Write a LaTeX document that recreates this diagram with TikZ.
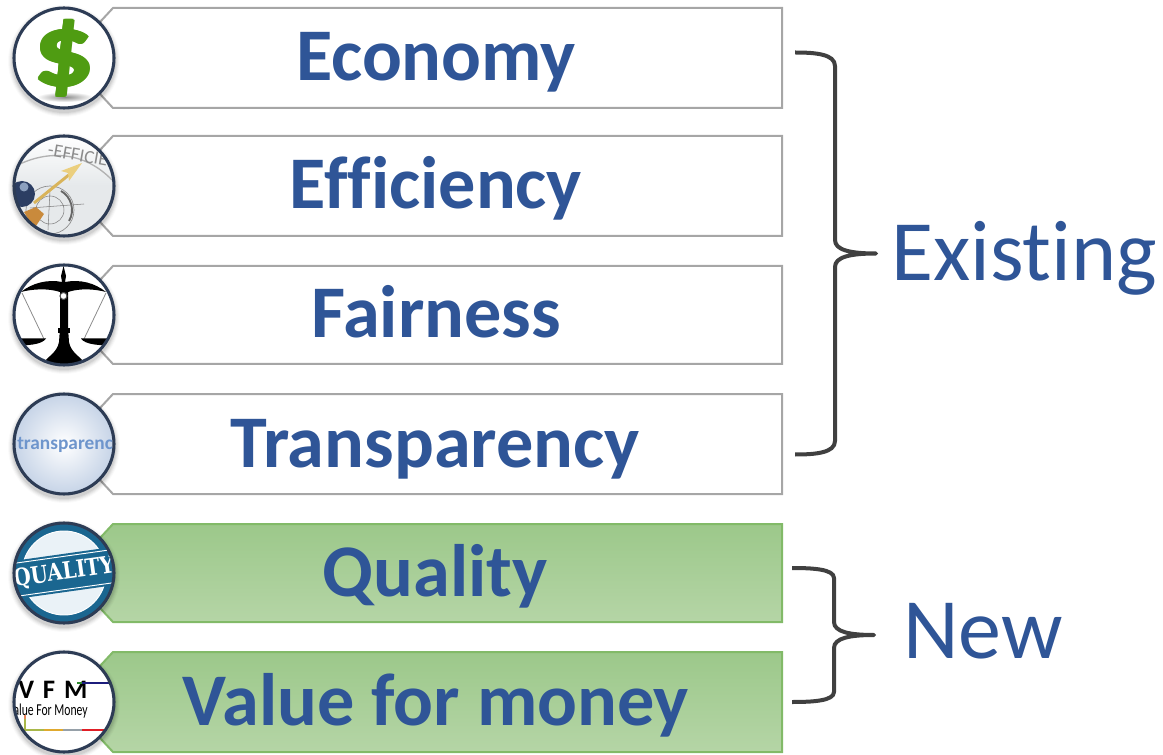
\documentclass[tikz,border=0pt]{standalone}
\usepackage{fontspec}
\setmainfont[Ligatures={NoCommon}]{Carlito}
\newfontfamily\slabfont{DejaVu Serif}
\usetikzlibrary{calc}
\definecolor{titleblue}{HTML}{2F5597}
\definecolor{ringblue}{HTML}{2D3C55}
\definecolor{boxgray}{HTML}{A6A6A6}
\definecolor{boxgreen}{HTML}{82BA68}
\definecolor{fillgreentop}{HTML}{9CC88A}
\definecolor{fillgreenbot}{HTML}{B5D5A6}
\definecolor{bracegray}{HTML}{404040}
\definecolor{dollargreen}{HTML}{4F9C12}
\definecolor{qblue}{HTML}{1A6690}
\definecolor{qpale}{HTML}{EAF2F7}
\definecolor{tedge}{HTML}{C4D2E6}
\definecolor{ttext}{HTML}{6E95CC}
\definecolor{dialbg}{HTML}{E6E9EB}
\definecolor{needle}{HTML}{D9B45A}
\definecolor{needletip}{HTML}{EBCF7E}
\definecolor{ballblue}{HTML}{2C3E63}
\definecolor{ballhi}{HTML}{8CA0BE}
\definecolor{brassorange}{HTML}{C98A3C}
\definecolor{vnavy}{HTML}{1C1C7C}
\definecolor{vgreen}{HTML}{2E8B2E}
\definecolor{volive}{HTML}{A9B84A}
\definecolor{vgold}{HTML}{E0A92E}
\definecolor{vgray}{HTML}{96A0A8}
\definecolor{vred}{HTML}{E01E26}
\definecolor{vorange}{HTML}{E8875A}
\tikzset{
  x=0.75pt,y=-0.75pt,
  plainbox/.style={draw=boxgray,line width=1.5pt,fill=white},
  greenbox/.style={draw=boxgreen,line width=1.5pt,top color=fillgreentop,bottom color=fillgreenbot},
  rowlabel/.style={font=\bfseries\fontsize{55.7}{60}\selectfont,text=titleblue,inner sep=0pt,anchor=base},
  sidelabel/.style={font=\fontsize{64.5}{70}\selectfont,text=titleblue,inner sep=0pt,anchor=base west},
  bracepath/.style={draw=bracegray,line width=3pt,line cap=butt,line join=round},
  ring/.style={draw=ringblue,line width=2.3pt},
}
% #1 style, #2 top, #3 bottom
\newcommand{\snipbox}[3]{\path[#1] (100,#2+14) -- (113,#2) -- (782,#2) -- (782,#3) -- (113,#3) -- (100,#3-14) -- cycle;}
% soft shadow below a disc centred at (64,#1)
\newcommand{\discshadow}[1]{\foreach \rr/\oo in {56/.02,55/.03,54/.04,53/.05,52/.06}{\fill[black,opacity=\oo] (64,#1+3) circle[radius=\rr];}}
\newcommand{\dollarglyph}{\scalebox{1.18}[1]{\bfseries\fontsize{76}{76}\selectfont\$}}
\begin{document}
\begin{tikzpicture}
\useasboundingbox (0,0) rectangle (1163,755);

% boxes
\snipbox{plainbox}{8}{108}
\snipbox{plainbox}{136}{236}
\snipbox{plainbox}{266}{364}
\snipbox{plainbox}{394}{494}
\snipbox{greenbox}{524}{622}
\snipbox{greenbox}{652}{752}

% labels
\node[rowlabel] (economy) at (436,81) {Economy};
\node[rowlabel] (efficiency) at (436,209) {Efficiency};
\node[rowlabel] (fairness) at (436,338) {Fairness};
\node[rowlabel] (transparency) at (435,467) {Transparency};
\node[rowlabel] (quality) at (435,596) {Quality};
\node[rowlabel] (vfm) at (436,725) {Value for money};
\node[sidelabel] (existing) at (891,281) {Existing};
\node[sidelabel] (new) at (903,658) {New};

% braces
\coordinate (e1) at (795,52.5);
\coordinate (e2) at (795,454.5);
\coordinate (etip) at (876,253.5);
\draw[bracepath] (e1) .. controls (815,52.5) and (835,54) .. (835,66) -- (835,240)
  .. controls (835,250) and (850,253.5) .. (etip)
  .. controls (850,253.5) and (835,257) .. (835,267) -- (835,441)
  .. controls (835,453) and (815,454.5) .. (e2);
\coordinate (n1) at (792,568);
\coordinate (n2) at (792,702);
\coordinate (ntip) at (874,635);
\draw[bracepath] (n1) .. controls (812,568) and (834,569) .. (834,578) -- (834,622)
  .. controls (834,632) and (850,635) .. (ntip)
  .. controls (850,635) and (834,638) .. (834,648) -- (834,692)
  .. controls (834,701) and (812,702) .. (n2);

% icon 1: dollar
\discshadow{58}
\begin{scope}
  \clip (64,58) circle[radius=50];
  \fill[white] (14,8) rectangle (114,108);
  \shade[inner color=black!45,outer color=white] (65,97) ellipse[x radius=28,y radius=5];
  \foreach \dx/\dy in {-1.6/0,1.6/0,0/-1,0/1,-1.2/1,1.2/-1,-1.2/-1,1.2/1}{
    \node[inner sep=0pt,text=dollargreen] at (64+\dx,58+\dy) {\dollarglyph};
  }
  \node[inner sep=0pt,text=dollargreen] (dollar) at (64,58) {\dollarglyph};
\end{scope}
\draw[ring] (64,58) circle[radius=50];

% icon 2: efficiency dial
\discshadow{186}
\begin{scope}
  \clip (64,186) circle[radius=50];
  \shade[top color=white,bottom color=dialbg,middle color=dialbg] (14,136) rectangle (114,236);
  \draw[black!30,line width=1pt] (20,164) .. controls (50,150) and (85,152) .. (112,180);
  \node[inner sep=0pt,text=black!45,rotate=-10,font=\fontsize{14}{15}\selectfont] (efficie) at (78,155) {-EFFICIE};
  \draw[black!45,line width=0.5pt] (50,210) circle[radius=24];
  \draw[black!60,line width=1.4pt] (50,210) +(-60:22) arc[start angle=-60,end angle=30,radius=22];
  \draw[black!50,line width=0.4pt] (30,208) -- (84,204) (50,190) -- (48,230) (50,210) circle[radius=14];
  \fill[brassorange] (24,212) -- (30,222) -- (36,226) -- (44,214) -- (36,207) -- cycle;
  \fill[ballblue] (22,194) circle[radius=13];
  \fill[ballhi] (24,187) circle[radius=4.5];
  \draw[needle,line width=2.2pt] (34,203) -- (70,174);
  \fill[needletip] (82,163) -- (61,171) -- (68,173) -- (69,181) -- cycle;
\end{scope}
\draw[ring] (64,186) circle[radius=50];

% icon 3: scales
\discshadow{315}
\begin{scope}
  \clip (64,315) circle[radius=50];
  \fill[white] (14,265) rectangle (114,365);
  \draw[black!45,line width=0.6pt] (22,293) -- (44,339) (106,293) -- (84,339);
  \fill[black] (63.5,266) -- (66,276) -- (65,282) .. controls (80,279) and (95,283) .. (106,292)
     .. controls (95,289) and (80,288) .. (68,292)
     -- (68,328) -- (69,342) .. controls (71,352) and (78,355) .. (84,362) -- (84,367) -- (44,367) -- (44,362)
     .. controls (50,355) and (57,352) .. (59,342) -- (60,328)
     -- (60,292) .. controls (48,288) and (32,289) .. (21,292) .. controls (32,283) and (48,279) .. (62,282) -- (61,276) -- cycle;
  \fill[black] (10,338.5) -- (46,338.5) .. controls (42,345) and (26,346) .. (10,345) -- cycle;
  \fill[black] (118,338.5) -- (81,338.5) .. controls (85,345) and (102,346) .. (118,345) -- cycle;
  \draw[black!70,line width=0.8pt,fill=white] (63.5,296) circle[radius=3.5];
  \fill[black] (58,328) rectangle (70,333);
\end{scope}
\draw[ring] (64,315) circle[radius=50];

% icon 4: transparency
\discshadow{444}
\begin{scope}
  \clip (64,444) circle[radius=50];
  \shade[inner color=white,outer color=tedge] (64,444) circle[radius=52];
  \node[inner sep=0pt,anchor=west,text=ttext,font=\bfseries\fontsize{14.5}{15}\selectfont] (transp) at (17,445) {transparency};
\end{scope}
\draw[ring] (64,444) circle[radius=50];

% icon 5: quality
\discshadow{573}
\begin{scope}
  \clip (64,573) circle[radius=50];
  \fill[qblue] (14,523) rectangle (114,623);
  \draw[white,fill=qpale,line width=0.7pt] (64,573) circle[radius=42];
  \begin{scope}[rotate around={8:(64,573)}]
    \fill[qblue] (0,554) rectangle (128,592);
    \draw[white,line width=0.7pt] (0,556.5) -- (128,556.5) (0,589.5) -- (128,589.5);
  \end{scope}
  \node[inner sep=0pt,text=white,rotate=8,font=\bfseries\fontsize{14.8}{16}\selectfont\slabfont] (qualityicon) at (64,573) {\scalebox{1}[1.2]{QUALITY}};
\end{scope}
\draw[ring] (64,573) circle[radius=50];

% icon 6: VFM
\discshadow{702}
\begin{scope}
  \clip (64,702) circle[radius=50];
  \fill[white] (14,652) rectangle (114,752);
  \node[inner sep=0pt,anchor=west,text=black,font=\bfseries\fontsize{20}{20}\selectfont] (vfmicon) at (18,690) {V\,\,F\,\,M};
  \node[inner sep=0pt,anchor=east,text=black,font=\fontsize{12.5}{13}\selectfont] (vfmsub) at (88,711.5) {\scalebox{.7}[1]{Value For Money}};
  \draw[vgreen,line width=2pt] (77,683) -- (82,683);
  \draw[vnavy,line width=2pt] (82,683) -- (112,683);
  \draw[vorange,line width=2pt] (25,715) -- (25,719);
  \draw[volive,line width=2pt] (25,719) -- (25,730) -- (44,730);
  \draw[vgold,line width=2pt] (44,730) -- (63,730);
  \draw[vgray,line width=2pt] (63,730) -- (82,730);
  \draw[vred,line width=2pt] (82,730) -- (108,730);
\end{scope}
\draw[ring] (64,702) circle[radius=50];
\end{tikzpicture}
\end{document}
